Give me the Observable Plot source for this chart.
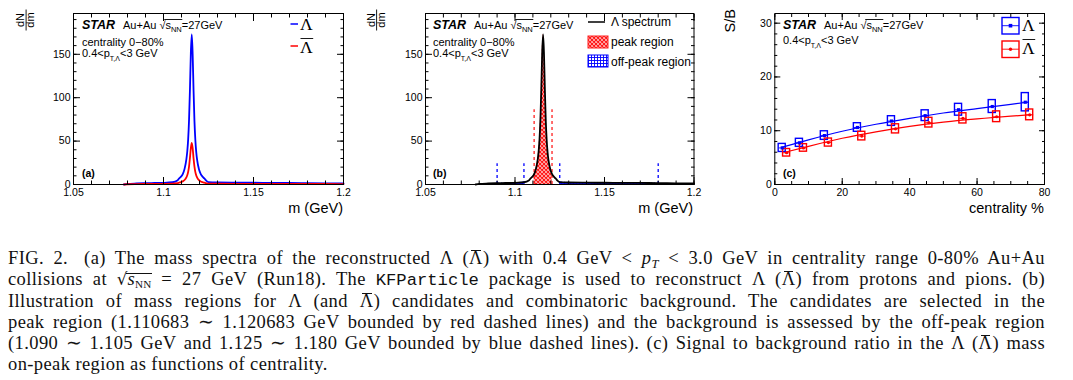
<!DOCTYPE html>
<html>
<head>
<meta charset="utf-8">
<script src="https://cdn.jsdelivr.net/npm/d3@7"></script>
<script src="https://cdn.jsdelivr.net/npm/@observablehq/plot@0.6"></script>
<style>
  html, body { margin: 0; padding: 0; background: white; }
  body { width: 1073px; height: 380px; position: relative; overflow: hidden; }
  .panel { position: absolute; top: 0; }
  #caption { position: absolute; left: 8px; top: 248px; width: 1037px;
    font-family: "Liberation Serif", "Times New Roman", serif; font-size: 18.5px; line-height: 21.3px; color: #111;
    letter-spacing: 0.4px; }
  #caption .ln { text-align: justify; text-align-last: justify; white-space: normal; height: 21.3px; }
  #caption .last { text-align: left; text-align-last: left; }
  #caption sub { font-size: 0.68em; vertical-align: -0.28em; line-height: 0; }
  #caption .mono { font-family: "Liberation Mono", "DejaVu Sans Mono", monospace; font-size: 0.93em; letter-spacing: 0; }
  #caption .bar, #caption .ov { position: relative; display: inline-block; line-height: 1em; }
  #caption .bar::before { content: ""; position: absolute; left: 2px; right: 2px; top: 1px; border-top: 1px solid #111; }
  #caption .ov::before { content: ""; position: absolute; left: -1px; right: 0; top: 2.5px; border-top: 1px solid #111; }
  #caption .rad { font-family: "DejaVu Sans", sans-serif; font-size: 0.9em; letter-spacing: 0; display: inline-block; line-height: 1em; }
  #caption .sc { font-size: 0.6em; letter-spacing: 0.02em; }
</style>
</head>
<body>
<svg width="0" height="0" style="position:absolute">
  <defs>
    <pattern id="redx" width="4" height="4" patternUnits="userSpaceOnUse">
      <rect width="4" height="4" fill="white"/>
      <path d="M0,0L4,4M4,0L0,4M-1,3L1,5M3,-1L5,1M-1,1L1,-1M3,5L5,3" stroke="#ff1a1a" stroke-width="1.3"/>
    </pattern>
    <pattern id="bluegrid" width="3" height="3" patternUnits="userSpaceOnUse">
      <rect width="3" height="3" fill="white"/>
      <path d="M0,0.5H3M0.5,0V3" stroke="#0000ff" stroke-width="0.9"/>
    </pattern>
  </defs>
</svg>
<div id="pa" class="panel" style="left:0px"></div>
<div id="pb" class="panel" style="left:360px"></div>
<div id="pc" class="panel" style="left:720px"></div>
<div id="caption">
  <div class="ln">FIG. 2.<span style="display:inline-block;width:16px"></span>(a) The mass spectra of the reconstructed Λ (<span class="bar">Λ</span>) with 0.4 GeV &lt; <i>p<sub>T</sub></i> &lt; 3.0 GeV in centrality range 0-80% Au+Au</div>
  <div class="ln">collisions at <span class="rad">√</span><span class="ov"><i>s</i><sub class="sc">NN</sub></span> = 27 GeV (Run18). The <span class="mono">KFParticle</span> package is used to reconstruct Λ (<span class="bar">Λ</span>) from protons and pions. (b)</div>
  <div class="ln">Illustration of mass regions for Λ (and <span class="bar">Λ</span>) candidates and combinatoric background. The candidates are selected in the</div>
  <div class="ln">peak region (1.110683 ∼ 1.120683 GeV bounded by red dashed lines) and the background is assessed by the off-peak region</div>
  <div class="ln">(1.090 ∼ 1.105 GeV and 1.125 ∼ 1.180 GeV bounded by blue dashed lines). (c) Signal to background ratio in the Λ (<span class="bar">Λ</span>) mass</div>
  <div class="ln last">on-peak region as functions of centrality.</div>
</div>
<script>
// ---------------- data ----------------
const mass = [1.078, 1.080, 1.085, 1.090, 1.095, 1.100, 1.105, 1.1077, 1.1087, 1.1097, 1.1107, 1.1117, 1.1127, 1.1132,
  1.1137, 1.1142, 1.1147, 1.1152, 1.1157, 1.1162, 1.1167, 1.1172, 1.1177, 1.1182, 1.1187, 1.1197, 1.1207, 1.1217,
  1.1227, 1.1237, 1.125, 1.130, 1.140, 1.150, 1.160, 1.170, 1.180, 1.190, 1.200];
const lambdaCounts = [0, 0.6, 1.2, 1.5, 1.7, 1.9, 2.6, 4.5, 7, 9, 12, 18, 29, 38,
  52, 75, 110, 152, 173, 150, 108, 73, 51, 37, 28, 17.5, 12, 9,
  7, 4.6, 2.8, 2.3, 2.1, 2.0, 1.9, 1.8, 1.6, 1.4, 1.2];
const antiLambdaCounts = [0, 0.3, 0.5, 0.6, 0.7, 0.8, 1.0, 1.6, 2.2, 2.8, 3.6, 5.2, 8.2, 10.7,
  14.6, 21, 31, 42, 48, 42, 30, 20.5, 14.2, 10.4, 8, 5, 3.5, 2.7,
  2.1, 1.5, 1.0, 0.9, 0.8, 0.8, 0.7, 0.7, 0.6, 0.6, 0.5];
const peakBounds = [1.110683, 1.120683];
const peakLineTop = 86;
const offPeakBounds = [1.090, 1.105, 1.125, 1.180];
const offPeakLineTop = 24;

const centLambda = [2.2, 7.3, 14.7, 24.5, 34.6, 44.6, 54.5, 64.5, 74.3];
const sbLambda   = [6.8, 7.75, 9.1, 10.6, 11.8, 12.8, 13.9, 14.5, 15.3];
const sysLambda  = [0.75, 0.75, 0.8, 0.8, 0.9, 1.0, 1.1, 1.2, 1.7];
const centAnti   = [3.5, 8.5, 15.9, 25.8, 35.8, 45.7, 55.8, 65.8, 75.6];
const sbAnti     = [5.9, 6.8, 7.8, 9.0, 10.35, 11.5, 12.3, 12.6, 12.95];
const sysAnti    = [0.7, 0.7, 0.75, 0.8, 0.85, 0.9, 0.95, 1.0, 1.0];
const fitCentLambda = [2, 10, 20, 30, 40, 50, 60, 70, 75];
const fitLambda     = [6.9, 8.3, 9.9, 11.2, 12.3, 13.3, 14.1, 14.9, 15.3];
const fitCentAnti   = [3, 10, 20, 30, 40, 50, 60, 70, 76];
const fitAnti       = [6.0, 7.1, 8.6, 9.8, 10.8, 11.6, 12.2, 12.7, 13.0];

const massTicks = [1.05, 1.1, 1.15, 1.2];
const massTickLabels = ["1.05", "1.1", "1.15", "1.2"];
const countTicks = [0, 50, 100, 150];
const centTicks = [0, 20, 40, 60, 80];
const sbTicks = [0, 10, 20, 30];
const massMinor = d3.range(1.05, 1.2001, 0.01);
const countMinor = d3.range(0, 197, 10);
const centMinor = d3.range(0, 80.01, 5);
const sbMinor = d3.range(0, 31.8, 2);

// ---------------- helpers ----------------
const BLUE = "#0000ff", RED = "#ff0000";
const none = () => "";
function boxAxes(xMaj, xMin, yMaj, yMin, xFmt, major = 7, minor = 3.5) {
  const m = [];
  for (const anchor of ["bottom", "top"]) {
    m.push(Plot.axisX({ticks: xMaj, anchor, tickSize: -major, tickFormat: none, label: null}));
    m.push(Plot.axisX({ticks: xMin, anchor, tickSize: -minor, tickFormat: none, label: null}));
  }
  for (const anchor of ["left", "right"]) {
    m.push(Plot.axisY({ticks: yMaj, anchor, tickSize: -major, tickFormat: none, label: null}));
    m.push(Plot.axisY({ticks: yMin, anchor, tickSize: -minor, tickFormat: none, label: null}));
  }
  m.push(Plot.axisX({ticks: xMaj, anchor: "bottom", tickSize: 0, tickPadding: 4, label: null, fontSize: 10.5, tickFormat: xFmt}));
  m.push(Plot.axisY({ticks: yMaj, anchor: "left", tickSize: 0, tickPadding: 3, label: null, fontSize: 10.5, tickFormat: d => `${d}`}));
  m.push(Plot.frame({stroke: "black", strokeWidth: 1}));
  return m;
}
const massFmt = d => massTickLabels[massTicks.findIndex(t => Math.abs(t - d) < 1e-9)];
const intFmt = d => `${d}`;
const style = {fontFamily: "'Liberation Sans', Arial, sans-serif", fontSize: "10.5px", background: "white", overflow: "visible", color: "black"};
const FONT = "'Liberation Sans', Arial, sans-serif";
const SERIF = "'Liberation Serif', 'Times New Roman', serif";

const spec = mass.map((m, i) => ({m, n: lambdaCounts[i], nb: antiLambdaCounts[i]}));
const inRange = (a, b) => spec.filter(d => d.m >= a - 1e-4 && d.m <= b + 1e-4);

function layer(svg) {
  let g = svg.querySelector("g.annot");
  if (!g) { svg.insertAdjacentHTML("beforeend", `<g class="annot" text-anchor="start"></g>`); g = svg.lastElementChild; }
  return g;
}
function add(svg, html) { const g = layer(svg); g.insertAdjacentHTML("beforeend", html); return g.lastElementChild; }
function overline(svg, textEl, i0, i1, y, pad = 0) {
  const s = textEl.getStartPositionOfChar(i0), e = textEl.getEndPositionOfChar(i1);
  add(svg, `<line x1="${s.x - pad}" x2="${e.x + 0.5}" y1="${y}" y2="${y}" stroke="black" stroke-width="0.9"/>`);
}
function header(svg, x, withCent, tag) {
  add(svg, `<text x="${x}" y="29" font-family="${FONT}" font-size="12.5" font-weight="bold" font-style="italic">STAR</text>`);
  const t = add(svg, `<text x="${x + 41}" y="29" font-family="${FONT}" font-size="11">Au+Au √s<tspan font-size="7.5" dy="2.5">NN</tspan><tspan dy="-2.5">=27GeV</tspan></text>`);
  overline(svg, t, 7, 9, 19.5, 1.2);
  let y;
  if (withCent) {
    add(svg, `<text x="${x}" y="46" font-family="${FONT}" font-size="11">centrality 0−80%</text>`);
    y = 57;
  } else { y = 44; }
  add(svg, `<text x="${x}" y="${y}" font-family="${FONT}" font-size="11">0.4&lt;p<tspan font-size="7" dy="3.5">T,Λ</tspan><tspan dy="-3.5">&lt;3 GeV</tspan></text>`);
  add(svg, `<text x="${x}" y="177" font-family="${FONT}" font-size="10.5" font-weight="bold">${tag}</text>`);
}
function dndm(svg, cx) {
  add(svg, `<g transform="translate(${cx},20) rotate(-90)" font-family="${FONT}" font-size="11" text-anchor="middle">
     <text x="0" y="-1.5">dN</text>
     <line x1="-10.5" x2="10.5" y1="0.3" y2="0.3" stroke="black" stroke-width="0.9"/>
     <text x="0" y="8.5">dm</text></g>`);
}

// ---------------- panel (a) ----------------
const pa = Plot.plot({
  width: 360, height: 230, marginLeft: 73, marginRight: 17, marginTop: 13, marginBottom: 46,
  style,
  x: {domain: [1.05, 1.2]}, y: {domain: [0, 197]},
  marks: [
    Plot.line(spec, {x: "m", y: "n", stroke: BLUE, strokeWidth: 1.8, curve: "monotone-x"}),
    Plot.line(spec, {x: "m", y: "nb", stroke: RED, strokeWidth: 1.8, curve: "monotone-x"}),
    ...boxAxes(massTicks, massMinor, countTicks, countMinor, massFmt)
  ]
});
document.getElementById("pa").appendChild(pa);

// ---------------- panel (b) ----------------
const pb = Plot.plot({
  width: 360, height: 230, marginLeft: 65, marginRight: 26.5, marginTop: 13, marginBottom: 46,
  style,
  x: {domain: [1.05, 1.2]}, y: {domain: [0, 197]},
  marks: [
    Plot.areaY(inRange(offPeakBounds[0], offPeakBounds[1]), {x: "m", y: "n", fill: "url(#bluegrid)", curve: "monotone-x"}),
    Plot.areaY(inRange(offPeakBounds[2], offPeakBounds[3]), {x: "m", y: "n", fill: "url(#bluegrid)", curve: "monotone-x"}),
    Plot.areaY(inRange(peakBounds[0], peakBounds[1]), {x: "m", y: "n", fill: "url(#redx)", curve: "monotone-x"}),
    Plot.ruleX(offPeakBounds, {y1: 0, y2: offPeakLineTop, stroke: BLUE, strokeWidth: 1.3, strokeDasharray: "3,3"}),
    Plot.ruleX(peakBounds, {y1: 0, y2: peakLineTop, stroke: "#ff2020", strokeWidth: 1.3, strokeDasharray: "3,3"}),
    Plot.line(spec, {x: "m", y: "n", stroke: "black", strokeWidth: 1.8, curve: "monotone-x"}),
    ...boxAxes(massTicks, massMinor, countTicks, countMinor, massFmt)
  ]
});
document.getElementById("pb").appendChild(pb);

// ---------------- panel (c) ----------------
const lamPts = centLambda.map((c, i) => ({c, v: sbLambda[i], e: sysLambda[i]}));
const antiPts = centAnti.map((c, i) => ({c, v: sbAnti[i], e: sysAnti[i]}));
const fitL = fitCentLambda.map((c, i) => ({c, v: fitLambda[i]}));
const fitA = fitCentAnti.map((c, i) => ({c, v: fitAnti[i]}));
const boxMarks = (pts, color) => [
  Plot.rect(pts, {x1: d => d.c - 1.05, x2: d => d.c + 1.05, y1: d => d.v - d.e, y2: d => d.v + d.e, fill: "none", stroke: color, strokeWidth: 1.4}),
  Plot.link(pts, {x1: d => d.c - 1.05, x2: d => d.c + 1.05, y1: "v", y2: "v", stroke: color, strokeWidth: 0.9})
];
const pc = Plot.plot({
  width: 353, height: 230, marginLeft: 54.3, marginRight: 29, marginTop: 13, marginBottom: 46,
  style,
  x: {domain: [0, 80]}, y: {domain: [0, 31.8]},
  marks: [
    Plot.line(fitL, {x: "c", y: "v", stroke: BLUE, strokeWidth: 1.2, curve: "natural"}),
    Plot.line(fitA, {x: "c", y: "v", stroke: RED, strokeWidth: 1.2, curve: "natural"}),
    ...boxMarks(lamPts, BLUE),
    ...boxMarks(antiPts, RED),
    Plot.dot(lamPts, {x: "c", y: "v", symbol: "square", r: 1.8, fill: BLUE}),
    Plot.dot(antiPts, {x: "c", y: "v", symbol: "circle", r: 1.6, fill: RED}),
    ...boxAxes(centTicks, centMinor, sbTicks, sbMinor, intFmt, 6, 3)
  ]
});
document.getElementById("pc").appendChild(pc);

// ---------------- annotations ----------------
// (a)
header(pa, 82, true, "(a)");
dndm(pa, 25.8);
add(pa, `<text x="343" y="213" text-anchor="end" font-family="${FONT}" font-size="14.5">m (GeV)</text>`);
add(pa, `<line x1="290.5" x2="298" y1="24" y2="24" stroke="${BLUE}" stroke-width="1.5"/>`);
add(pa, `<text x="300" y="30" font-family="${SERIF}" font-size="17.5">Λ</text>`);
add(pa, `<line x1="290.5" x2="298" y1="46" y2="46" stroke="${RED}" stroke-width="1.5"/>`);
const ta = add(pa, `<text x="300" y="52.5" font-family="${SERIF}" font-size="17.5">Λ</text>`);
overline(pa, ta, 0, 0, 38.5, -0.5);

// (b)
header(pb, 73, true, "(b)");
dndm(pb, 16.3);
add(pb, `<text x="333" y="213" text-anchor="end" font-family="${FONT}" font-size="14.5">m (GeV)</text>`);
add(pb, `<line x1="228" x2="245" y1="22" y2="22" stroke="black" stroke-width="1.5"/>`);
add(pb, `<text x="251" y="26" font-family="${FONT}" font-size="12">Λ spectrum</text>`);
add(pb, `<rect x="228" y="36" width="20" height="12" fill="url(#redx)" stroke="#ff2020" stroke-width="1"/>`);
add(pb, `<text x="251" y="46" font-family="${FONT}" font-size="12">peak region</text>`);
add(pb, `<rect x="228" y="55" width="20" height="12" fill="url(#bluegrid)" stroke="${BLUE}" stroke-width="1"/>`);
add(pb, `<text x="251" y="65.5" font-family="${FONT}" font-size="12">off-peak region</text>`);

// (c)
header(pc, 63, false, "(c)");
add(pc, `<text transform="translate(15,9) rotate(-90)" text-anchor="end" font-family="${FONT}" font-size="14.5">S/B</text>`);
add(pc, `<text x="324" y="213" text-anchor="end" font-family="${FONT}" font-size="14.5">centrality %</text>`);
add(pc, `<rect x="282" y="17.5" width="17" height="16.5" fill="none" stroke="${BLUE}" stroke-width="1.4"/>`);
add(pc, `<line x1="282" x2="299" y1="25.7" y2="25.7" stroke="${BLUE}" stroke-width="0.9"/>`);
add(pc, `<rect x="288.7" y="23.9" width="3.6" height="3.6" fill="${BLUE}"/>`);
add(pc, `<text x="302" y="31" font-family="${SERIF}" font-size="17.5">Λ</text>`);
add(pc, `<rect x="282" y="41" width="17" height="16.5" fill="none" stroke="${RED}" stroke-width="1.4"/>`);
add(pc, `<line x1="282" x2="299" y1="49.2" y2="49.2" stroke="${RED}" stroke-width="0.9"/>`);
add(pc, `<circle cx="290.5" cy="49.2" r="1.7" fill="${RED}"/>`);
const tc = add(pc, `<text x="302" y="53.5" font-family="${SERIF}" font-size="17.5">Λ</text>`);
overline(pc, tc, 0, 0, 39.5, -0.5);
</script>
</body>
</html>
